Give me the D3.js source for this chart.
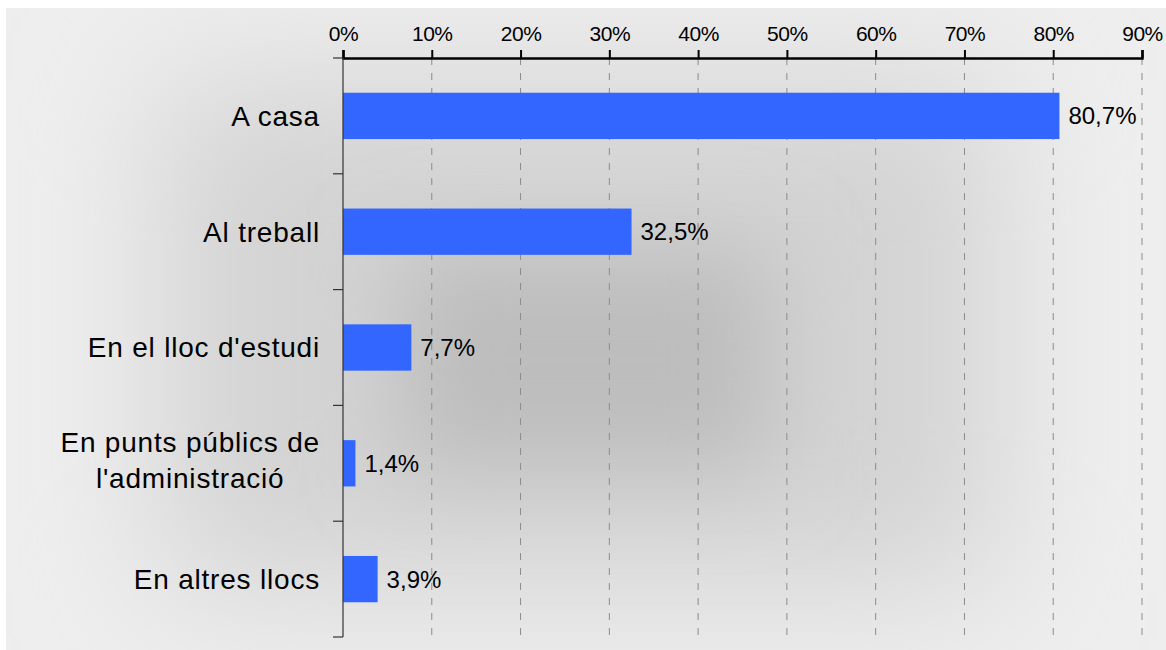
<!DOCTYPE html>
<html>
<head>
<meta charset="utf-8">
<script src="https://cdn.jsdelivr.net/npm/d3@7"></script>
<style>
  body { margin: 0; background: #fff; }
  text { font-family: "Liberation Sans", Arial, sans-serif; fill: #000; }
</style>
</head>
<body>
<div id="chart"></div>
<script>
const categories = ["A casa", "Al treball", "En el lloc d'estudi", "En punts públics de\nl'administració", "En altres llocs"];
const values = [80.7, 32.5, 7.7, 1.4, 3.9];
const tickValues = [0, 10, 20, 30, 40, 50, 60, 70, 80, 90];

const width = 1166, height = 650;
const margin = {top: 58, right: 24, bottom: 13, left: 343};

const svg = d3.select("#chart").append("svg")
  .attr("width", width).attr("height", height);

// background panel with soft grey shading
const defs = svg.append("defs");
defs.append("filter").attr("id", "blur1")
  .attr("x", "-50%").attr("y", "-50%").attr("width", "200%").attr("height", "200%")
  .append("feGaussianBlur").attr("stdDeviation", 70);
defs.append("filter").attr("id", "blur2")
  .attr("x", "-50%").attr("y", "-50%").attr("width", "200%").attr("height", "200%")
  .append("feGaussianBlur").attr("stdDeviation", 45);
defs.append("clipPath").attr("id", "panelClip")
  .append("rect").attr("x", 6).attr("y", 8).attr("width", width - 6).attr("height", height - 8);

const bg = svg.append("g").attr("clip-path", "url(#panelClip)");
bg.append("rect").attr("x", 6).attr("y", 8).attr("width", width - 6).attr("height", height - 8)
  .attr("fill", "#eeeeee");
bg.append("rect").attr("x", 160).attr("y", 80).attr("width", 840).attr("height", 510)
  .attr("fill", "#d3d3d3").attr("filter", "url(#blur1)");
bg.append("rect").attr("x", 400).attr("y", 250).attr("width", 370).attr("height", 220)
  .attr("fill", "#bdbdbd").attr("filter", "url(#blur2)");

const x = d3.scaleLinear().domain([0, 90]).range([margin.left, width - margin.right]);
const y = d3.scaleBand().domain(categories).range([margin.top, height - margin.bottom]);
const barH = y.bandwidth() * 0.4;

// dashed grid lines
svg.append("g").selectAll("line")
  .data(tickValues.filter(d => d > 0))
  .enter().append("line")
  .attr("x1", d => x(d)).attr("x2", d => x(d))
  .attr("y1", margin.top).attr("y2", height - margin.bottom)
  .attr("stroke", "#8c8c8c").attr("stroke-width", 1)
  .attr("stroke-dasharray", "7,8");

// bars
svg.append("g").selectAll("rect")
  .data(categories)
  .enter().append("rect")
  .attr("x", x(0))
  .attr("y", d => y(d) + (y.bandwidth() - barH) / 2)
  .attr("width", (d, i) => x(values[i]) - x(0))
  .attr("height", barH)
  .attr("fill", "#3366ff");

// value labels
svg.append("g").selectAll("text")
  .data(categories)
  .enter().append("text")
  .attr("x", (d, i) => x(values[i]) + 9)
  .attr("y", d => y(d) + y.bandwidth() / 2)
  .attr("dy", "0.35em")
  .attr("font-size", "24px")
  .text((d, i) => String(values[i]).replace(".", ",") + "%");

// top axis
const xAxis = d3.axisTop(x).tickValues(tickValues).tickSize(8).tickPadding(6)
  .tickFormat(d => d + "%");
const gx = svg.append("g").attr("transform", "translate(0," + margin.top + ")").call(xAxis);
gx.select(".domain").attr("stroke", "#000").attr("stroke-width", 2.5);
gx.selectAll(".tick line").attr("stroke", "#000").attr("stroke-width", 2);
gx.selectAll(".tick text").attr("font-size", "21px").attr("font-family", "Liberation Sans, Arial, sans-serif")
  .attr("fill", "#000").attr("letter-spacing", "-0.5px").attr("y", -17);

// left axis line and band ticks
const ga = svg.append("g");
ga.append("line")
  .attr("x1", x(0)).attr("x2", x(0))
  .attr("y1", margin.top).attr("y2", height - margin.bottom)
  .attr("stroke", "#333").attr("stroke-width", 1.2);
const bounds = categories.map(d => y(d)).concat([y.range()[1]]);
ga.selectAll("line.tk")
  .data(bounds)
  .enter().append("line").attr("class", "tk")
  .attr("x1", x(0) - 10).attr("x2", x(0))
  .attr("y1", d => d).attr("y2", d => d)
  .attr("stroke", "#333").attr("stroke-width", 1.2);

// category labels (multi-line ones are centred as a block)
const labelRight = 320;
categories.forEach(c => {
  const lines = c.split("\n");
  const cy = y(c) + y.bandwidth() / 2;
  const t = svg.append("text")
    .attr("font-size", "28px")
    .attr("letter-spacing", "0.8px");
  if (lines.length === 1) {
    t.attr("x", labelRight).attr("y", cy).attr("dy", "0.35em")
      .attr("text-anchor", "end").text(c);
  } else {
    lines.forEach((l, i) => {
      t.append("tspan").attr("y", cy - 11 + i * 36).text(l);
    });
    const w = d3.max(t.selectAll("tspan").nodes(), n => n.getComputedTextLength());
    t.attr("text-anchor", "middle");
    t.selectAll("tspan").attr("x", labelRight - w / 2);
  }
});
</script>
</body>
</html>
